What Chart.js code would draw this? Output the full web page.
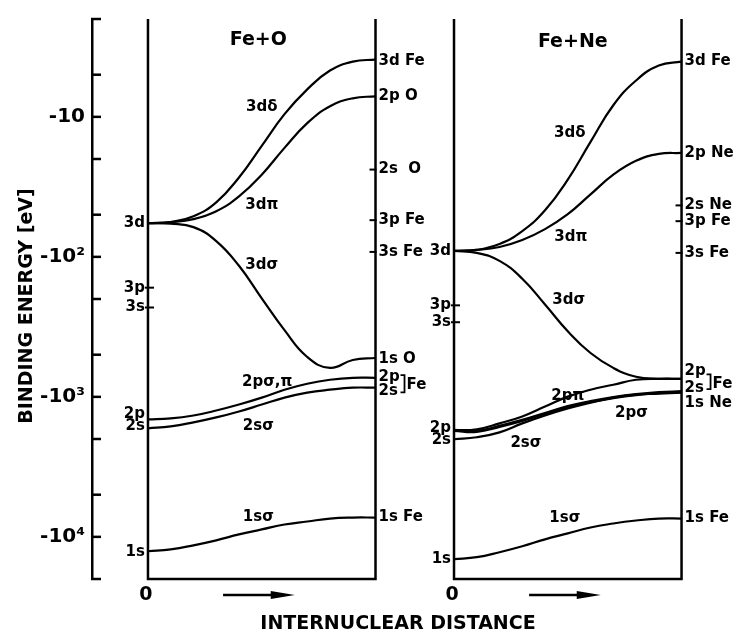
<!DOCTYPE html>
<html>
<head>
<meta charset="utf-8">
<script src="https://cdn.jsdelivr.net/npm/chart.js@4.4.0/dist/chart.umd.min.js"></script>
<style>
  html, body { margin: 0; padding: 0; background: #fff; }
  #wrap { width: 742px; height: 635px; }
</style>
</head>
<body>
<div id="wrap"><canvas id="chart" width="742" height="635"></canvas></div>
<script>
// internuclear distance grid, shared by both systems (0 = united atom, 1 = separated atoms)
var distance = [0, 0.1, 0.2, 0.3, 0.4, 0.5, 0.6, 0.7, 0.8, 0.9, 1.0];

// Fe+O correlation curves, |binding energy| in eV
var feO3dDelta = [57.5, 56.5, 51.3, 40.8, 27.1, 16.1, 9.56, 6.36, 4.67, 4.03, 3.9];
var feO3dPi    = [57.5, 56.5, 53.8, 47.3, 37.0, 25.9, 16.65, 11.08, 8.40, 7.37, 7.13];
var feO3dSigma = [57.5, 58.0, 61.3, 77.1, 115.8, 198, 334, 519, 621, 545, 528];
var feO2pSigPi = [1450, 1426, 1358, 1252, 1135, 1013, 889, 806, 755, 731, 731];
var feO2sSigma = [1679, 1625, 1522, 1403, 1272, 1135, 1013, 933, 889, 860, 860];
var feO1sSigma = [12670, 12270, 11490, 10590, 9603, 8851, 8158, 7770, 7400, 7280, 7280];

// Fe+Ne correlation curves
var feNe3dDelta = [90.7, 89.2, 80.9, 65.5, 46.5, 28.1, 15.1, 8.26, 5.50, 4.30, 4.03];
var feNe3dPi    = [90.7, 89.2, 85.0, 75.8, 63.4, 49.6, 35.8, 25.9, 20.6, 18.4, 18.1];
var feNe3dSigma = [90.7, 93.7, 106.8, 143.2, 218.8, 340, 486, 621, 719, 743, 743];
var feNe2pPi    = [1734, 1706, 1547, 1380, 1173, 996, 889, 819, 755, 743, 743];
var feNe2pSigma = [1734, 1763, 1625, 1473, 1314, 1173, 1081, 1013, 964, 933, 918];
var feNe2sSigma = [2008, 1944, 1792, 1547, 1358, 1211, 1099, 1013, 964, 949, 933];
var feNe1sSigma = [14440, 13970, 12880, 11680, 10420, 9448, 8568, 8026, 7643, 7400, 7400];

// energy axis
var energyTicks = [2, 5, 10, 20, 50, 100, 200, 500, 1000, 2000, 5000, 10000, 20000];
var energyLabels = { 10: '-10', 100: '-10\u00B2', 1000: '-10\u00B3', 10000: '-10\u2074' };

// where each system's box starts on the distance axis
var panelShift = [0, 1.345];

// text on the diagram: [text, panel, distance, energy]
var curveLabels = [
  ['Fe+O', 0, 0.485, 2.82], ['3d\u03B4', 0, 0.50, 8.53], ['3d\u03C0', 0, 0.50, 42.9],
  ['3d\u03C3', 0, 0.50, 114], ['2p\u03C3,\u03C0', 0, 0.524, 780], ['2s\u03C3', 0, 0.485, 1625],
  ['1s\u03C3', 0, 0.485, 7280],
  ['Fe+Ne', 1, 0.522, 2.91], ['3d\u03B4', 1, 0.509, 13.0], ['3d\u03C0', 1, 0.513, 72.2],
  ['3d\u03C3', 1, 0.504, 205], ['2p\u03C0', 1, 0.50, 980], ['2p\u03C3', 1, 0.78, 1314],
  ['2s\u03C3', 1, 0.316, 2143], ['1s\u03C3', 1, 0.487, 7400]
];

// atomic levels at the box edges: [text, energy, tick mark]
var leftLevels = [
  [['3d', 57.5], ['3p', 166, true], ['3s', 230, true], ['2p', 1336], ['2s', 1625], ['1s', 12880]],
  [['3d', 90.7], ['3p', 222, true], ['3s', 293, true], ['2p', 1679], ['2s', 2041], ['1s', 14440]]
];
var rightLevels = [
  [['3d Fe', 4.03], ['2p O', 7.13], ['2s  O', 23.8, true], ['3p Fe', 54.7, true], ['3s Fe', 92.2, true],
   ['1s O', 536], ['2p', 719], ['2s', 903], ['1s Fe', 7280]],
  [['3d Fe', 4.03], ['2p Ne', 18.1], ['2s Ne', 42.9, true], ['3p Fe', 55.6, true], ['3s Fe', 93.7, true],
   ['2p', 652], ['2s', 860], ['1s Ne', 1117], ['1s Fe', 7400]]
];
// bracket joining the Fe 2p/2s pair: [top energy, bottom energy, label energy]
var feBracket = [[700, 930, 819], [690, 880, 806]];

var FONT = '"DejaVu Sans", sans-serif';

function curve(values, panel, width) {
  return {
    data: distance.map(function (d, i) { return { x: d + panelShift[panel], y: values[i] }; }),
    borderColor: '#000',
    borderWidth: width || 2.2,
    pointRadius: 0,
    fill: false,
    tension: 0.45
  };
}

function seg(ctx, x1, y1, x2, y2) {
  ctx.beginPath();
  ctx.moveTo(x1, y1);
  ctx.lineTo(x2, y2);
  ctx.stroke();
}

var diagram = {
  id: 'diagram',
  beforeDatasetsDraw: function (chart) {
    var ctx = chart.ctx, xs = chart.scales.x, ys = chart.scales.y, area = chart.chartArea;
    ctx.save();
    ctx.strokeStyle = '#000';
    ctx.lineWidth = 2.5;
    // inward tick marks on the energy axis
    energyTicks.forEach(function (v) {
      var py = ys.getPixelForValue(v);
      seg(ctx, area.left - 1, py, area.left + 9, py);
    });
    // open boxes for each system
    panelShift.forEach(function (s) {
      var l = xs.getPixelForValue(s), r = xs.getPixelForValue(s + 1);
      ctx.beginPath();
      ctx.moveTo(l, area.top);
      ctx.lineTo(l, area.bottom);
      ctx.lineTo(r, area.bottom);
      ctx.lineTo(r, area.top);
      ctx.stroke();
    });
    ctx.restore();
  },
  afterDatasetsDraw: function (chart) {
    var ctx = chart.ctx, xs = chart.scales.x, ys = chart.scales.y, area = chart.chartArea;
    ctx.save();
    ctx.fillStyle = '#000';
    ctx.strokeStyle = '#000';
    ctx.lineWidth = 2;
    ctx.textBaseline = 'middle';

    // curve names and titles
    ctx.textAlign = 'center';
    curveLabels.forEach(function (c) {
      ctx.font = (c[0].indexOf('Fe') === 0 ? 'bold 19px ' : 'bold 15px ') + FONT;
      ctx.fillText(c[0], xs.getPixelForValue(panelShift[c[1]] + c[2]), ys.getPixelForValue(c[3]));
    });

    panelShift.forEach(function (s, p) {
      var l = xs.getPixelForValue(s), r = xs.getPixelForValue(s + 1);
      ctx.font = 'bold 15px ' + FONT;
      ctx.textAlign = 'right';
      leftLevels[p].forEach(function (lv) {
        var py = ys.getPixelForValue(lv[1]);
        ctx.fillText(lv[0], l - 3, py);
        if (lv[2]) seg(ctx, l - 3, py, l + 6, py);
      });
      ctx.textAlign = 'left';
      rightLevels[p].forEach(function (lv) {
        var py = ys.getPixelForValue(lv[1]);
        ctx.fillText(lv[0], r + 3, py);
        if (lv[2]) seg(ctx, r - 6, py, r + 1, py);
      });
      // Fe 2p/2s bracket
      var b = feBracket[p];
      var bx = r + 29, t = ys.getPixelForValue(b[0]), bt = ys.getPixelForValue(b[1]);
      ctx.lineWidth = 1.8;
      ctx.beginPath();
      ctx.moveTo(bx - 4, t);
      ctx.lineTo(bx, t);
      ctx.lineTo(bx, bt);
      ctx.lineTo(bx - 4, bt);
      ctx.stroke();
      ctx.fillText('Fe', bx + 2, ys.getPixelForValue(b[2]));

      // origin and direction of the distance axis
      ctx.font = 'bold 19px ' + FONT;
      ctx.textAlign = 'center';
      ctx.fillText('0', l - 2, area.bottom + 16);
      var a0 = xs.getPixelForValue(s + 0.33), a1 = xs.getPixelForValue(s + 0.645);
      var ay = area.bottom + 16;
      ctx.lineWidth = 2.5;
      seg(ctx, a0, ay, a1 - 20, ay);
      ctx.beginPath();
      ctx.moveTo(a1 - 24, ay - 4);
      ctx.lineTo(a1, ay);
      ctx.lineTo(a1 - 24, ay + 4);
      ctx.closePath();
      ctx.fill();
      ctx.lineWidth = 2;
    });

    // axis titles
    ctx.font = 'bold 19px ' + FONT;
    ctx.textAlign = 'center';
    ctx.fillText('INTERNUCLEAR DISTANCE', 398, 624);
    ctx.translate(27, 306);
    ctx.rotate(-Math.PI / 2);
    ctx.fillText('BINDING ENERGY [eV]', 0, 0);
    ctx.restore();
  }
};

var datasets = [
  curve(feO3dDelta, 0), curve(feO3dPi, 0), curve(feO3dSigma, 0),
  curve(feO2pSigPi, 0), curve(feO2sSigma, 0), curve(feO1sSigma, 0),
  curve(feNe3dDelta, 1), curve(feNe3dPi, 1), curve(feNe3dSigma, 1),
  curve(feNe2pPi, 1), curve(feNe2pSigma, 1, 3.2), curve(feNe2sSigma, 1), curve(feNe1sSigma, 1)
];

Chart.defaults.font.family = FONT;
Chart.defaults.color = '#000';

var chart = new Chart(document.getElementById('chart').getContext('2d'), {
  type: 'line',
  data: { datasets: datasets },
  options: {
    responsive: false,
    animation: false,
    devicePixelRatio: 1,
    layout: { padding: { top: 14, bottom: 56, right: 60, left: 0 } },
    plugins: { legend: { display: false }, tooltip: { enabled: false } },
    scales: {
      x: { type: 'linear', min: -0.246, max: 2.347, display: false },
      y: {
        type: 'logarithmic',
        reverse: true,
        min: 2,
        max: 20000,
        afterBuildTicks: function (scale) {
          scale.ticks = energyTicks.map(function (v) { return { value: v }; });
        },
        afterFit: function (scale) { scale.width = 92; },
        grid: { drawOnChartArea: false, drawTicks: false },
        border: { display: true, color: '#000', width: 2.5 },
        ticks: {
          autoSkip: false,
          padding: 7,
          font: { size: 20, weight: 'bold' },
          color: '#000',
          callback: function (v) { return energyLabels[v] || ''; }
        }
      }
    }
  },
  plugins: [diagram]
});
</script>
</body>
</html>
